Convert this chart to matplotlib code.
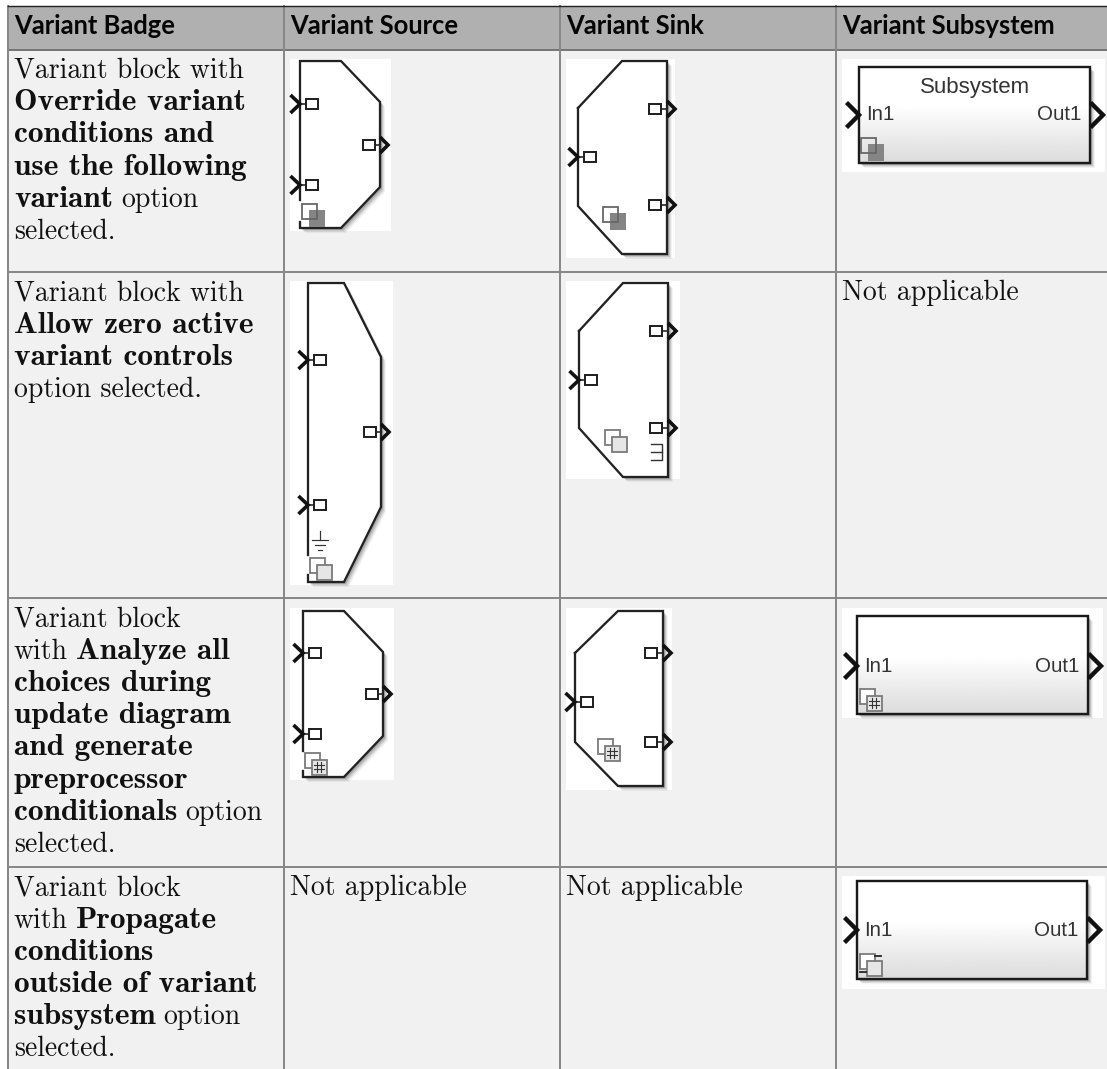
import numpy as np
import matplotlib
matplotlib.use('Agg')
import matplotlib.pyplot as plt
from matplotlib.patches import Polygon, Rectangle

W, H = 1107, 1069

headers = ['Variant Badge', 'Variant Source', 'Variant Sink', 'Variant Subsystem']
col_x = [8, 284, 560, 836]
row_y = [49.5, 272, 598, 867]

# each line is a list of (text, bold)
badge_text = [
    [[('Variant block with', 0)], [('Override variant', 1)], [('conditions and', 1)],
     [('use the following', 1)], [('variant', 1), ('option', 0)], [('selected.', 0)]],
    [[('Variant block with', 0)], [('Allow zero active', 1)], [('variant controls', 1)],
     [('option selected.', 0)]],
    [[('Variant block', 0)], [('with', 0), ('Analyze all', 1)], [('choices during', 1)],
     [('update diagram', 1)], [('and generate', 1)], [('preprocessor', 1)],
     [('conditionals', 1), ('option', 0)], [('selected.', 0)]],
    [[('Variant block', 0)], [('with', 0), ('Propagate', 1)], [('conditions', 1)],
     [('outside of variant', 1)], [('subsystem', 1), ('option', 0)], [('selected.', 0)]],
]
not_applicable = [(290.5, 895), (566.5, 895), (842.5, 300)]

# source / sink blocks: white box, outline, ports, badge
src_box = [(290, 59, 391, 231), (290, 281, 393, 585), (290, 608, 394, 780)]
src_outline = [
    [(300, 200), (300, 61), (341, 61), (380, 102), (380, 187), (341, 228), (300, 228), (300, 222)],
    [(308, 555), (308, 283), (344, 283), (381, 357), (381, 507), (344, 582), (308, 582), (308, 575)],
    [(303, 751), (303, 611), (344, 611), (383, 652), (383, 736), (344, 777), (303, 777), (303, 771)],
]
src_in_y = [(104, 185), (360, 505), (653, 734)]
src_out_y = [145, 432, 694]
src_badge = [(302, 204), (310, 558), (305, 753)]

snk_box = [(566, 59, 675, 258), (566, 281, 680, 479), (566, 608, 672, 790)]
snk_outline = [
    [(578, 108), (622, 61), (667, 61), (667, 254), (622, 254), (578, 206), (578, 108)],
    [(579, 331), (623, 283), (668, 283), (668, 477), (623, 477), (579, 428), (579, 331)],
    [(575, 653), (618, 611), (663, 611), (663, 786), (618, 786), (575, 742), (575, 653)],
]
snk_in_y = [157, 380, 702]
snk_out_y = [(109, 205), (331, 428), (653, 742)]
snk_badge = [(603, 207), (605, 430), (598, 739)]

sub_box = [(842, 59, 1105, 172), (842, 608, 1103, 718), (842, 876, 1105, 989)]
sub_rect = [(859, 67, 1090, 163), (857, 616, 1088, 714), (857, 881, 1087, 979)]
sub_port_y = [115, 666, 930]
sub_badge = [(861, 138), (860, 689), (860, 954)]

src_kinds = ['override', 'zero', 'analyze']
snk_kinds = ['override', 'zero', 'analyze']
sub_kinds = ['override', 'analyze', 'propagate']

fig = plt.figure(figsize=(W / 100, H / 100), dpi=100, facecolor='white')
ax = fig.add_axes([0, 0, 1, 1])
ax.set_xlim(0, W)
ax.set_ylim(H, 0)
ax.axis('off')

LINE = '#888888'
px = 0.72


def chevron(x, y, h=9, w=9.5, lw=3.6):
    ax.plot([x - w, x, x - w], [y - h, y, y + h], color='#111111', lw=lw * px, zorder=6,
            solid_joinstyle='miter', solid_capstyle='butt')


def port(x0, x1, y, edge):
    ax.plot([edge, (x0 if edge < x0 else x1)], [y, y], color='#222222', lw=1.6 * px, zorder=4)
    ax.add_patch(Rectangle((x0, y - 5), x1 - x0, 10, fc='white', ec='#222222', lw=2.0 * px, zorder=5))


def badge(x, y, kind):
    s = 15
    dx, dy = 6.5, 6.5
    if kind == 'override':
        dy = 6
        ax.add_patch(Rectangle((x + dx, y + dy), s + 1, s + 1.5, fc='#858585', ec='none', zorder=7))
        ax.add_patch(Rectangle((x, y), s, s, fc='none', ec='#666666', lw=1.8 * px, zorder=8))
        return
    ax.add_patch(Rectangle((x, y), s, s, fc='white', ec='#7a7a7a', lw=1.8 * px, zorder=7))
    ax.add_patch(Rectangle((x + dx, y + dy), s, s, fc='#e6e6e6', ec='#7a7a7a', lw=1.8 * px, zorder=8))
    cx, cy = x + dx + s / 2, y + dy + s / 2
    if kind == 'analyze':
        for d in (-2.2, 2.2):
            ax.plot([cx + d, cx + d], [cy - 5, cy + 5], color='#333333', lw=1.1 * px, zorder=9)
            ax.plot([cx - 5, cx + 5], [cy + d, cy + d], color='#333333', lw=1.1 * px, zorder=9)
    if kind == 'propagate':
        ax.plot([x + s, x + s + 6], [y + 2, y + 2], color='#222222', lw=1.8 * px, zorder=9)
        ax.plot([x, x + 6], [y + s + 3, y + s + 3], color='#222222', lw=1.8 * px, zorder=9)


def shadow(pts):
    pts = np.array(pts, dtype=float)
    for off, a in ((5, 0.07), (4, 0.12), (3, 0.18), (2, 0.25)):
        ax.add_patch(Polygon(pts + off, closed=True, fc='#555555', ec='none', alpha=a, zorder=2))


def box(b):
    ax.add_patch(Rectangle((b[0], b[1]), b[2] - b[0], b[3] - b[1], fc='white', ec='none', zorder=1))


# table background
ax.add_patch(Rectangle((col_x[0], row_y[0]), W - col_x[0], H - row_y[0], fc='#f1f1f1', ec='none', zorder=0))
ax.add_patch(Rectangle((col_x[0], 5.5), W - col_x[0], row_y[0] - 5.5, fc='#b0b0b0', ec='none', zorder=0))
ax.plot([col_x[0], W], [5.5, 5.5], color='#222222', lw=1.4 * px, zorder=1)
for y in row_y:
    ax.plot([col_x[0], W], [y, y], color=LINE if y > 50 else '#777777', lw=2.0 * px, zorder=0.5)
for x in col_x:
    ax.plot([x, x], [5.5, H], color=LINE, lw=2.0 * px, zorder=0.5)

# header
for x, label in zip(col_x, headers):
    ax.text(x + 6.5, 34.5, label, family='Lato', fontsize=18.4, color='#050505', va='baseline',
            fontweight='bold', zorder=3)

# body text, cmb10 runs narrower than the bold in the picture so it gets a larger size
renderer = fig.canvas.get_renderer()
body_size = 20.0
bold_size = 22.6
step = 32.2


def draw_line(x, y, segs):
    for txt, bold in segs:
        t = ax.text(x, y, txt, family='cmb10' if bold else 'cmr10',
                    fontsize=bold_size if bold else body_size,
                    color='#111111', va='baseline', zorder=3)
        bb = t.get_window_extent(renderer)
        x = bb.x1 + 8


for ry, lines in zip(row_y, badge_text):
    for i, segs in enumerate(lines):
        draw_line(14, ry + 28.5 + i * step, segs)
for x, y in not_applicable:
    draw_line(x, y, [('Not applicable', 0)])

# source blocks
for b, o, ins, oy, bd, kind in zip(src_box, src_outline, src_in_y, src_out_y, src_badge, src_kinds):
    box(b)
    shadow(o)
    ax.add_patch(Polygon(o, closed=True, fc='white', ec='none', zorder=3))
    xs, ys = zip(*o)
    ax.plot(xs, ys, color='#222222', lw=2.3 * px, zorder=4, solid_joinstyle='miter')
    left = o[0][0]
    right = max(xs)
    for y in ins:
        chevron(left, y)
        port(left + 6, left + 18, y, left)
    chevron(right + 8, oy, h=8, w=8)
    port(right - 17, right - 5, oy, right)
    badge(bd[0], bd[1], kind)

# ground symbol on the zero-active source, terminator on the zero-active sink
gx, gy = 320, 540
ax.plot([gx, gx], [gy - 9, gy], color='#333333', lw=1.2 * px, zorder=5)
for dy, hw in ((0, 8), (5, 5), (10, 2)):
    ax.plot([gx - hw, gx + hw], [gy + dy, gy + dy], color='#333333', lw=1.2 * px, zorder=5)
tx = 662
ax.plot([651, tx, tx, 651], [444, 444, 460, 460], color='#333333', lw=1.4 * px, zorder=5)
ax.plot([651, tx], [452, 452], color='#333333', lw=1.4 * px, zorder=5)

# sink blocks
for b, o, iy, outs, bd, kind in zip(snk_box, snk_outline, snk_in_y, snk_out_y, snk_badge, snk_kinds):
    box(b)
    shadow(o[:-1])
    ax.add_patch(Polygon(o, closed=True, fc='white', ec='none', zorder=3))
    xs, ys = zip(*o)
    ax.plot(xs, ys, color='#222222', lw=2.3 * px, zorder=4, solid_joinstyle='miter')
    left = min(xs)
    right = max(xs)
    chevron(left, iy)
    port(left + 6, left + 18, iy, left)
    for y in outs:
        chevron(right + 8, y, h=8, w=8)
        port(right - 18, right - 6, y, right)
    badge(bd[0], bd[1], kind)

# subsystem blocks
shade = np.concatenate([np.ones(40), np.linspace(1, 0.86, 60)]).reshape(-1, 1)
for b, r, py, bd, kind in zip(sub_box, sub_rect, sub_port_y, sub_badge, sub_kinds):
    box(b)
    corners = [(r[0], r[1]), (r[2], r[1]), (r[2], r[3]), (r[0], r[3])]
    shadow(corners)
    ax.imshow(shade, cmap='gray', vmin=0, vmax=1, extent=(r[0], r[2], r[3], r[1]), aspect='auto',
              zorder=3, interpolation='bilinear')
    ax.add_patch(Rectangle((r[0], r[1]), r[2] - r[0], r[3] - r[1], fc='none', ec='#1a1a1a',
                           lw=2.4 * px, zorder=4))
    chevron(r[0], py, h=12.5, w=12.5, lw=4.4)
    chevron(r[2] + 13, py, h=12.5, w=12.5, lw=4.4)
    ax.text(r[0] + 7.5, py, 'In1', family='Liberation Sans', fontsize=14.8, color='#333333',
            va='center', ha='left', zorder=5)
    ax.text(r[2] - 9, py, 'Out1', family='Liberation Sans', fontsize=14.8, color='#333333',
            va='center', ha='right', zorder=5)
    badge(bd[0], bd[1], kind)
ax.text(975, 87, 'Subsystem', family='Liberation Sans', fontsize=16, color='#333333',
        va='center', ha='center', zorder=5)

ax.set_xlim(0, W)
ax.set_ylim(H, 0)
fig.savefig('out.png', dpi=100)
